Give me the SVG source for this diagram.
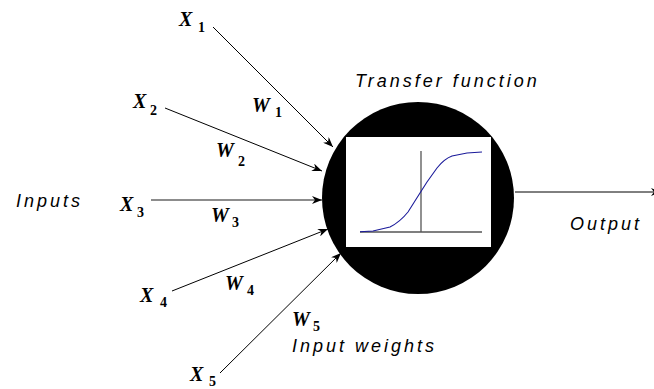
<svg xmlns="http://www.w3.org/2000/svg" width="654" height="389" viewBox="0 0 654 389">
<style>
.v{font-family:"Liberation Serif","Times New Roman",serif;font-weight:bold;font-style:italic;font-size:20px;fill:#000}
.s{font-family:"Liberation Serif","Times New Roman",serif;font-weight:bold;font-size:14px;fill:#000}
.t{font-family:"Liberation Sans",Arial,sans-serif;font-style:italic;font-size:18px;letter-spacing:3px;fill:#000}
.c{stroke:#000;stroke-width:1;fill:none}
</style>
<defs>
<marker id="ah" viewBox="0 0 10 8" refX="10" refY="4" markerWidth="10" markerHeight="8" markerUnits="userSpaceOnUse" orient="auto">
<path d="M0,0 L10,4 L0,8 L3,4 z" fill="#000"/>
</marker>
</defs>
<g id="connectors">
<line class="c" x1="213" y1="27" x2="333" y2="147" marker-end="url(#ah)"/>
<line class="c" x1="165" y1="108" x2="322" y2="171" marker-end="url(#ah)"/>
<line x1="151" y1="200" x2="322" y2="200" style="stroke:#666;stroke-width:1.5;fill:none" marker-end="url(#ah)"/>
<line class="c" x1="172" y1="291" x2="328" y2="229" marker-end="url(#ah)"/>
<line class="c" x1="220" y1="373" x2="341" y2="253" marker-end="url(#ah)"/>
<line class="c" x1="515" y1="192" x2="661" y2="192" marker-end="url(#ah)"/>
</g>
<g id="neuron">
<circle cx="418" cy="198" r="96" fill="#000"/>
<rect x="346" y="137" width="145" height="110" fill="#fff"/>
<line x1="421" y1="151" x2="421" y2="232" stroke="#555" stroke-width="1.3"/>
<line x1="360" y1="232" x2="482" y2="232" stroke="#555" stroke-width="1.3"/>
<path d="M360,231.7 L373,231 L390,227 Q400,222 408,212 L420,193 L427,182 L437,168 Q444,159 452,156 L467,153 L482,152" fill="none" stroke="#1a1a9a" stroke-width="1.1"/>
</g>
<g id="x1"><text class="v" x="179" y="26">X</text><text class="s" x="198" y="32">1</text></g>
<g id="w1"><text class="v" x="252" y="112">W</text><text class="s" x="275" y="117">1</text></g>
<g id="x2"><text class="v" x="133" y="108">X</text><text class="s" x="150" y="115">2</text></g>
<g id="w2"><text class="v" x="216" y="157">W</text><text class="s" x="238" y="166">2</text></g>
<g id="x3"><text class="v" x="120" y="211">X</text><text class="s" x="137" y="217">3</text></g>
<g id="w3"><text class="v" x="211" y="222">W</text><text class="s" x="232" y="227">3</text></g>
<g id="x4"><text class="v" x="140" y="302">X</text><text class="s" x="160" y="307">4</text></g>
<g id="w4"><text class="v" x="225" y="290">W</text><text class="s" x="247" y="295">4</text></g>
<g id="x5"><text class="v" x="190" y="381">X</text><text class="s" x="209" y="386">5</text></g>
<g id="w5"><text class="v" x="292" y="326">W</text><text class="s" x="313" y="331">5</text></g>
<g id="labels">
<text class="t" x="355" y="87">Transfer function</text>
<text class="t" x="16" y="207">Inputs</text>
<text class="t" x="570" y="230">Output</text>
<text class="t" x="292" y="352">Input weights</text>
</g>
</svg>
